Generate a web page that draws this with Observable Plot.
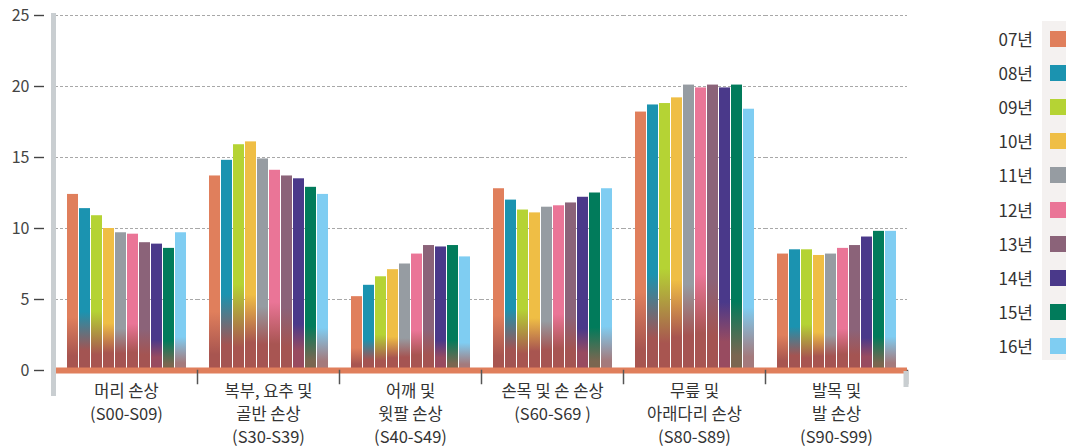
<!DOCTYPE html>
<html>
<head>
<meta charset="utf-8">
<script src="https://cdn.jsdelivr.net/npm/d3@7"></script>
<script src="https://cdn.jsdelivr.net/npm/@observablehq/plot@0.6"></script>
<style>
  html, body { margin: 0; padding: 0; background: #fff; }
  #wrap { position: relative; width: 1066px; height: 447px; overflow: hidden;
          font-family: "Noto Sans CJK KR", "Noto Sans", sans-serif; }
  #legend-box { position: absolute; left: 1042px; top: 21px; width: 30px; height: 339px; background: #f4f1f0; }
  .lg-label { position: absolute; right: 33px; font-size: 17px; color: #333; line-height: 20px; text-align: right; white-space: nowrap; }
  .lg-swatch { position: absolute; left: 1050px; width: 18px; height: 16px; }
</style>
</head>
<body>
<div id="wrap"></div>
<script>
const groups = [
  "머리 손상\n(S00-S09)",
  "복부, 요추 및\n골반 손상\n(S30-S39)",
  "어깨 및\n윗팔 손상\n(S40-S49)",
  "손목 및 손 손상\n(S60-S69 )",
  "무릎 및\n아래다리 손상\n(S80-S89)",
  "발목 및\n발 손상\n(S90-S99)"
];
const years = ["07년", "08년", "09년", "10년", "11년", "12년", "13년", "14년", "15년", "16년"];
const colors = ["#e07f5c", "#1b93b0", "#b5d334", "#efbe45", "#969ca2", "#ea7597", "#8b6379", "#4a398a", "#017b5b", "#7fcdf2"];
// bottom blend colours of each bar and the fractions (from the bottom) where blending starts / ends
const bottomColors = ["#a85550", "#a35452", "#a85550", "#a85550", "#a55452", "#a85552", "#a45452", "#984b60", "#7a6650", "#a47a7c"];
const blendStart = [0.30, 0.36, 0.38, 0.33, 0.30, 0.34, 0.32, 0.24, 0.24, 0.24];
const blendEnd   = [0.08, 0.12, 0.10, 0.12, 0.12, 0.13, 0.12, 0.10, 0.05, 0.05];

const y07 = [12.4, 13.7, 5.2, 12.8, 18.2, 8.2];
const y08 = [11.4, 14.8, 6.0, 12.0, 18.7, 8.5];
const y09 = [10.9, 15.9, 6.6, 11.3, 18.8, 8.5];
const y10 = [10.0, 16.1, 7.1, 11.1, 19.2, 8.1];
const y11 = [9.7, 14.9, 7.5, 11.5, 20.1, 8.2];
const y12 = [9.6, 14.1, 8.2, 11.6, 19.9, 8.6];
const y13 = [9.0, 13.7, 8.8, 11.8, 20.1, 8.8];
const y14 = [8.9, 13.5, 8.7, 12.2, 19.9, 9.4];
const y15 = [8.6, 12.9, 8.8, 12.5, 20.1, 9.8];
const y16 = [9.7, 12.4, 8.0, 12.8, 18.4, 9.8];
const series = [y07, y08, y09, y10, y11, y12, y13, y14, y15, y16];
const yTicks = [0, 5, 10, 15, 20, 25];

const rows = [];
years.forEach((yr, i) => groups.forEach((g, j) => rows.push({group: g, year: yr, value: series[i][j]})));

const ns = "http://www.w3.org/2000/svg";
const gradientDefs = () => {
  const d = document.createElementNS(ns, "defs");
  d.innerHTML = colors.map((c, i) =>
    `<linearGradient id="bargrad${i}" x1="0" y1="0" x2="0" y2="1">` +
    `<stop offset="0" stop-color="${c}"/>` +
    `<stop offset="${1 - blendStart[i]}" stop-color="${c}"/>` +
    `<stop offset="${1 - blendEnd[i]}" stop-color="${bottomColors[i]}"/>` +
    `<stop offset="1" stop-color="${bottomColors[i]}"/>` +
    `</linearGradient>`).join("");
  return d;
};

const plot = Plot.plot({
  width: 1066,
  height: 447,
  marginLeft: 55,
  marginRight: 159,
  marginTop: 15,
  marginBottom: 77,
  style: {fontFamily: '"Noto Sans CJK KR", "Noto Sans", sans-serif', fontSize: "16px", color: "#333", background: "transparent", overflow: "visible"},
  fx: {domain: groups, padding: 0, label: null},
  x: {domain: years, paddingInner: 0.11, paddingOuter: 0.8, axis: null},
  y: {domain: [0, 25], axis: null},
  marks: [
    gradientDefs,
    Plot.gridY(yTicks.slice(1), {stroke: "#a8a8a8", strokeOpacity: 1, strokeDasharray: "3,2"}),
    ...years.map((yr, i) => Plot.barY(rows.filter(r => r.year === yr), {fx: "group", x: "year", y: "value", fill: `url(#bargrad${i})`})),
    Plot.ruleY([0], {stroke: "#e07f5c", strokeWidth: 6}),
    Plot.frame({anchor: "right", stroke: "#555", strokeWidth: 1.5, insetTop: 355, insetBottom: -13}),
    Plot.frame({anchor: "right", facetAnchor: "right", stroke: "#c9ced1", strokeWidth: 5, insetTop: 358, insetBottom: -14, insetRight: 1.5}),
    Plot.frame({anchor: "left", facetAnchor: "left", stroke: "#c9ced1", strokeWidth: 5, insetLeft: -2, insetBottom: -23}),
    Plot.axisY(yTicks, {anchor: "left", tickSize: 10, tickPadding: 5, dx: -11, color: "#444", fontSize: 16, label: null, strokeWidth: 1.4}),
    Plot.axisFx({anchor: "bottom", tickSize: 0, tickPadding: 10, lineHeight: 1.4, fontSize: 16.5, color: "#333", label: null})
  ]
});

const wrap = document.getElementById("wrap");
wrap.appendChild(plot);

// legend
const box = document.createElement("div");
box.id = "legend-box";
wrap.appendChild(box);
years.forEach((yr, i) => {
  const top = 31 + i * 34.1;
  const lab = document.createElement("div");
  lab.className = "lg-label";
  lab.textContent = yr;
  lab.style.top = (top - 2) + "px";
  wrap.appendChild(lab);
  const sw = document.createElement("div");
  sw.className = "lg-swatch";
  sw.style.top = top + "px";
  sw.style.background = colors[i];
  wrap.appendChild(sw);
});
</script>
</body>
</html>
